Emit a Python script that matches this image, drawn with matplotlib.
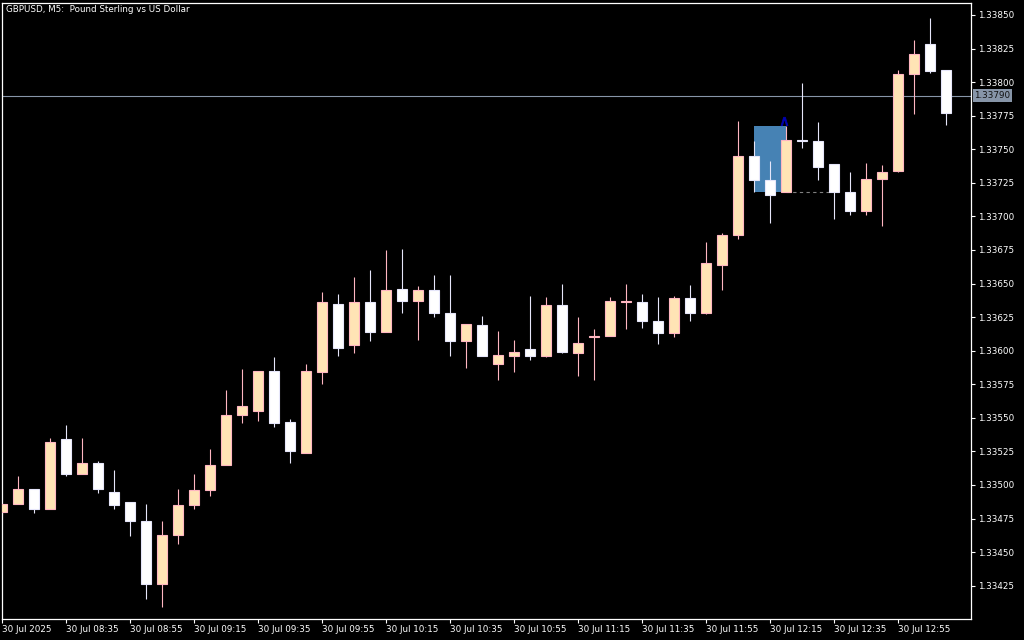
import numpy as np
import matplotlib
matplotlib.use('Agg')
import matplotlib.pyplot as plt
from matplotlib.ticker import MultipleLocator, FormatStrFormatter

"""---------------------------Data: GBPUSD M5, 30 Jul 2025 08:15 - 13:10---------------------------"""
opens = [1.33480, 1.33486, 1.33497, 1.33482, 1.33534, 1.33508, 1.33516, 1.33495, 1.33487, 1.33473,
         1.33426, 1.33463, 1.33485, 1.33496, 1.33515, 1.33552, 1.33555, 1.33585, 1.33547, 1.33524,
         1.33584, 1.33635, 1.33604, 1.33636, 1.33614, 1.33646, 1.33637, 1.33645, 1.33628, 1.33607,
         1.33619, 1.33590, 1.33596, 1.33601, 1.33596, 1.33634, 1.33598, 1.33610, 1.33611, 1.33636,
         1.33636, 1.33622, 1.33613, 1.33639, 1.33628, 1.33664, 1.33686, 1.33745, 1.33727, 1.33718,
         1.33757, 1.33756, 1.33739, 1.33718, 1.33704, 1.33728, 1.33734, 1.33806, 1.33828, 1.33809]
highs = [1.33486, 1.33507, 1.33497, 1.33535, 1.33545, 1.33535, 1.33518, 1.33511, 1.33487, 1.33486,
         1.33473, 1.33497, 1.33508, 1.33527, 1.33571, 1.33586, 1.33585, 1.33595, 1.33549, 1.33590,
         1.33644, 1.33642, 1.33655, 1.33660, 1.33675, 1.33676, 1.33648, 1.33656, 1.33656, 1.33620,
         1.33626, 1.33615, 1.33608, 1.33641, 1.33640, 1.33650, 1.33625, 1.33616, 1.33640, 1.33650,
         1.33642, 1.33640, 1.33641, 1.33649, 1.33681, 1.33688, 1.33771, 1.33756, 1.33741, 1.33767,
         1.33799, 1.33770, 1.33739, 1.33733, 1.33740, 1.33738, 1.33809, 1.33831, 1.33848, 1.33809]
lows = [1.33478, 1.33486, 1.33479, 1.33482, 1.33507, 1.33508, 1.33494, 1.33482, 1.33462, 1.33415,
        1.33409, 1.33456, 1.33482, 1.33492, 1.33515, 1.33546, 1.33548, 1.33543, 1.33516, 1.33524,
        1.33575, 1.33596, 1.33598, 1.33607, 1.33614, 1.33628, 1.33608, 1.33625, 1.33596, 1.33587,
        1.33596, 1.33578, 1.33584, 1.33593, 1.33595, 1.33598, 1.33581, 1.33578, 1.33611, 1.33616,
        1.33617, 1.33605, 1.33610, 1.33622, 1.33627, 1.33645, 1.33683, 1.33718, 1.33695, 1.33718,
        1.33751, 1.33727, 1.33698, 1.33701, 1.33701, 1.33693, 1.33733, 1.33776, 1.33807, 1.33768]
closes = [1.33486, 1.33497, 1.33482, 1.33532, 1.33508, 1.33516, 1.33497, 1.33485, 1.33473, 1.33426,
          1.33463, 1.33485, 1.33496, 1.33515, 1.33552, 1.33559, 1.33585, 1.33546, 1.33525, 1.33585,
          1.33636, 1.33602, 1.33636, 1.33614, 1.33645, 1.33637, 1.33645, 1.33628, 1.33607, 1.33620,
          1.33596, 1.33597, 1.33599, 1.33596, 1.33634, 1.33599, 1.33606, 1.33611, 1.33637, 1.33637,
          1.33622, 1.33613, 1.33639, 1.33628, 1.33665, 1.33686, 1.33745, 1.33727, 1.33716, 1.33757,
          1.33756, 1.33737, 1.33718, 1.33704, 1.33728, 1.33733, 1.33806, 1.33821, 1.33808, 1.33777]

time_labels = ['30 Jul 2025', '30 Jul 08:35', '30 Jul 08:55', '30 Jul 09:15', '30 Jul 09:35',
               '30 Jul 09:55', '30 Jul 10:15', '30 Jul 10:35', '30 Jul 10:55', '30 Jul 11:15',
               '30 Jul 11:35', '30 Jul 11:55', '30 Jul 12:15', '30 Jul 12:35', '30 Jul 12:55']
bars_per_label = 4

# Objects drawn on the chart
box_start, box_end = 47, 49          # bar index
box_low, box_high = 1.33718, 1.33767
arrow_bar, arrow_price = 48.9, 1.33771
dash_start, dash_end, dash_price = 49, 51.75, 1.33718
hline_price = 1.33790

title = 'GBPUSD, M5:  Pound Sterling vs US Dollar'

"""---------------------------Styling---------------------------"""
bg = '#000000'
bull_fill, bull_edge = '#FFE4B5', '#FFB6C1'
bear_fill, bear_edge = '#FFFFFF', '#E6E6FA'
fs = 6.3

o = np.array(opens)
h = np.array(highs)
l = np.array(lows)
c = np.array(closes)
x = np.arange(len(o))
bull = c >= o

fig = plt.figure(figsize=(10.24, 6.4), dpi=100, facecolor=bg)
ax = fig.add_axes([2 / 1024, 21 / 640, 969 / 1024, 616 / 640], facecolor=bg)

# Blue rectangle behind candles
ax.fill_between([box_start, box_end], box_low, box_high, color='#4682B4', linewidth=0, zorder=1)

# horizontal price line
ax.axhline(hline_price, color='#8795A8', linewidth=0.8, zorder=0.5)

# dashed line
ax.plot([dash_start, dash_end], [dash_price, dash_price], color='#808080', linestyle=(0, (3, 3)),
        linewidth=0.8, zorder=1.5)

# Wicks
wick_colors = [bull_edge if b else bear_edge for b in bull]
ax.vlines(x, l, h, colors=wick_colors, linewidth=0.8, zorder=2)

# Bodies
body_bottom = np.minimum(o, c)
body_height = np.maximum(np.abs(c - o), 0.000012)
ax.bar(x, body_height, bottom=body_bottom, width=0.6,
       color=[bull_fill if b else bear_fill for b in bull],
       edgecolor=[bull_edge if b else bear_edge for b in bull], linewidth=0.8, zorder=3)

# Arrow marker (chevron)
ax.plot([arrow_bar], [arrow_price], marker=r'$\wedge$', markersize=6, color='#0000B0',
        markeredgewidth=0.6, zorder=4)

ax.set_xlim(0, 60.5625)
ax.set_ylim(1.334002, 1.338589)

# Axes / frame
for s in ax.spines.values():
    s.set_color('white')
    s.set_linewidth(0.9)

ax.yaxis.tick_right()
ax.yaxis.set_major_locator(MultipleLocator(0.00025))
ax.yaxis.set_major_formatter(FormatStrFormatter('%.5f'))
ax.tick_params(axis='y', colors='white', labelsize=fs, length=3, width=0.8, pad=2, direction='out')

ax.set_xticks(x[::bars_per_label][:len(time_labels)])
ax.set_xticklabels(time_labels, ha='left')
ax.tick_params(axis='x', colors='white', labelsize=fs, length=3, width=0.8, pad=1, direction='out')

# Current price label on the right axis
ax.text(1.0035, hline_price, f'{hline_price:.5f}', transform=ax.get_yaxis_transform(),
        fontsize=fs, color='#111111', va='center', ha='left',
        bbox=dict(boxstyle='square,pad=0.2', facecolor='#8795A8', edgecolor='none'), zorder=6)

# Title
fig.text(6 / 1024, 1 - 10 / 640, title, color='white', fontsize=fs, va='center', ha='left')

plt.savefig('out.png', dpi=100, facecolor=bg)
